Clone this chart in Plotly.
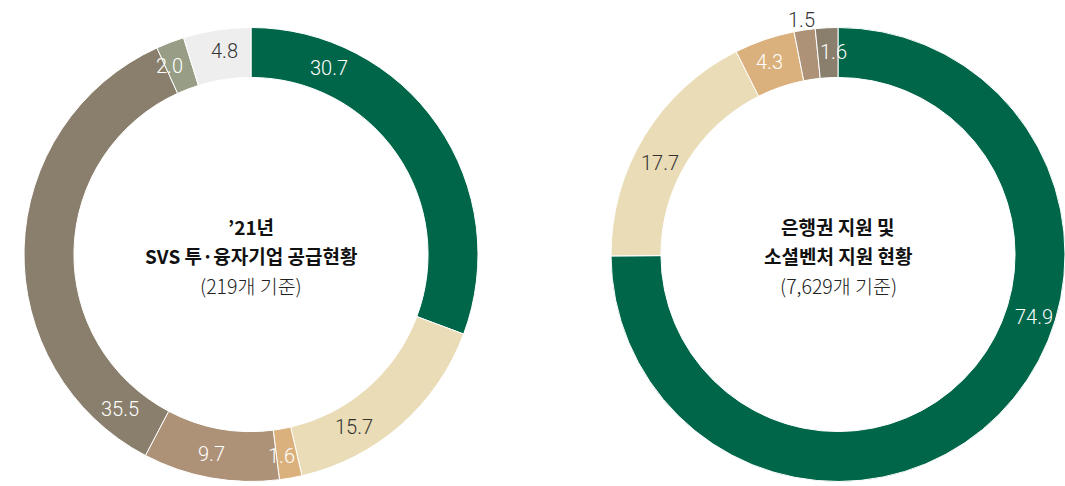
import math
import plotly.graph_objects as go

# ---- data ----
left_labels = ["A", "B", "C", "D", "E", "F", "G"]
left_values = [30.7, 15.7, 1.6, 9.7, 35.5, 2.0, 4.8]
right_labels = ["A", "B", "C", "D", "E"]
right_values = [74.9, 17.7, 4.3, 1.5, 1.6]

left_title = ["’21년", "SVS 투·융자기업 공급현황", "(219개 기준)"]
right_title = ["은행권 지원 및", "소셜벤처 지원 현황", "(7,629개 기준)"]

# ---- style ----
W, H = 1065, 486
GREEN = "#00664A"
BEIGE = "#E9DCB6"
TAN = "#DAB17D"
BROWN = "#AD9278"
GRAYBROWN = "#8A7F6C"
SAGE = "#989E85"
LIGHT = "#EEEEEE"
left_colors = [GREEN, BEIGE, TAN, BROWN, GRAYBROWN, SAGE, LIGHT]
right_colors = [GREEN, BEIGE, TAN, BROWN, GRAYBROWN]
left_text_colors = ["white", "#333333", "white", "white", "white", "white", "#333333"]
right_text_colors = ["white", "#333333", "white", "#333333", "white"]
# label anchor (angle clockwise from top in degrees, radius in px)
left_label_pos = [(22.7, 202), (149.2, 201), (171.3, 204), (191.1, 203), (220.3, 202), (336.6, 205), (352.5, 205)]
right_label_pos = [(107.6, 206), (297.3, 200), (340.5, 204), (351.1, 237), (358.6, 203)]

R = 227
HOLE = 0.78
left_c = (251, 254.5)
right_c = (838, 254.5)


def dom(c):
    x0 = (c[0] - R) / W
    x1 = min((c[0] + R) / W, 1.0)
    y0 = (H - c[1] - R) / H
    y1 = (H - c[1] + R) / H
    return dict(x=[x0, x1], y=[y0, y1])


fig = go.Figure()
for labels, values, colors, c in [
    (left_labels, left_values, left_colors, left_c),
    (right_labels, right_values, right_colors, right_c),
]:
    fig.add_trace(go.Pie(
        labels=labels, values=values, sort=False, direction="clockwise", rotation=0,
        hole=HOLE, textinfo="none", hoverinfo="skip",
        marker=dict(colors=colors, line=dict(color="white", width=1)),
        domain=dom(c), showlegend=False,
    ))

annotations = []
for values, tcols, pos, c in [
    (left_values, left_text_colors, left_label_pos, left_c),
    (right_values, right_text_colors, right_label_pos, right_c),
]:
    for v, col, (ang, rad) in zip(values, tcols, pos):
        a = math.radians(ang)
        px = c[0] + rad * math.sin(a)
        py = c[1] - rad * math.cos(a)
        annotations.append(dict(
            x=px / W, y=1 - py / H, xref="paper", yref="paper",
            text=f"{v:.1f}", showarrow=False, xanchor="center", yanchor="middle",
            font=dict(family="Roboto, Noto Sans, sans-serif", size=20, color=col, weight=300),
        ))

for title, c in [(left_title, left_c), (right_title, right_c)]:
    ys = [226, 255, 285]
    for i, (t, y) in enumerate(zip(title, ys)):
        annotations.append(dict(
            x=c[0] / W, y=1 - y / H, xref="paper", yref="paper",
            text=(f"<b>{t}</b>" if i < 2 else t), showarrow=False,
            xanchor="center", yanchor="middle",
            font=dict(family="Noto Sans CJK KR, sans-serif", size=19 if i < 2 else 19.5,
                      color="#111111" if i < 2 else "#222222",
                      weight=None if i < 2 else 300),
        ))

fig.update_layout(
    width=W, height=H, margin=dict(l=0, r=0, t=0, b=0),
    paper_bgcolor="white", plot_bgcolor="white",
    annotations=annotations,
)
fig.write_html("out.html", config={"displayModeBar": False},
               post_script="document.body.style.margin='0';document.body.style.overflow='hidden';")
